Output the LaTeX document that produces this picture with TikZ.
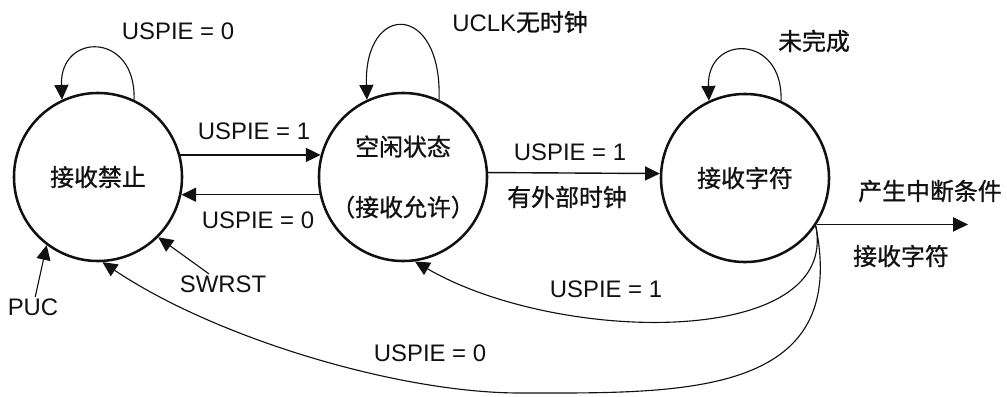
\documentclass[tikz,border=0pt]{standalone}
\usepackage{fontspec}
\setmainfont{Liberation Sans}
\newfontfamily\cjk[FakeBold=1]{Noto Sans CJK SC}
\usetikzlibrary{arrows.meta}
\definecolor{fsmink}{HTML}{111111}
\newcommand{\selfloop}[2]{%
  \draw[loopline] (#1.65) .. controls +(88:#2) and +(92:#2) .. (#1.115);
}
\tikzset{
  fsmstate/.style={circle, draw=fsmink, line width=1.8pt, minimum size=4.2cm, inner sep=0pt,
    text=fsmink, font=\fontsize{17pt}{20pt}\selectfont\cjk, align=center},
  lbl/.style={text=fsmink, font=\fontsize{17pt}{20pt}\selectfont, inner sep=1pt},
  hz/.style={lbl, font=\fontsize{17pt}{20pt}\selectfont\cjk},
  trans/.style={draw=fsmink, line width=1pt, -{Triangle[length=10.5pt,width=10pt]}},
  loopline/.style={trans, line width=0.8pt},
}

\begin{document}
\begin{tikzpicture}[x=0.025cm, y=-0.025cm]
  \useasboundingbox (0,0) rectangle (1007,396);

  \node[fsmstate] (off)  at (98,177)  {接收禁止};
  \node[fsmstate] (idle) at (403,177) {空闲状态\\[23pt]（接收允许）};
  \node[fsmstate] (recv) at (745,178) {接收字符};

  % self loops
  \selfloop{off}{1.7cm}
  \selfloop{idle}{2.45cm}
  \selfloop{recv}{1.67cm}
  \node[lbl] (offloop)  at (178,31) {USPIE = 0};
  \node[lbl] (idleloop) at (520,22) {UCLK{\cjk 无时钟}};
  \node[hz]  (recvloop) at (814,41) {未完成};

  % off <-> idle
  \draw[trans] (off.15) -- (idle.165);
  \node[lbl] (enable)  at (254,131) {USPIE = 1};
  \draw[trans] (idle.192) -- (off.348);
  \node[lbl] (disable) at (258,220) {USPIE = 0};

  % idle -> recv
  \draw[trans] (idle.3) -- (recv.177);
  \node[lbl] (start)    at (570,152) {USPIE = 1};
  \node[hz]  (extclock) at (567,197) {有外部时钟};

  % recv out
  \coordinate (outend) at (968,223);
  \draw[trans] (recv.-33) -- (recv.-33 -| outend);
  \node[hz] (irq)  at (930,191) {产生中断条件};
  \node[hz] (done) at (901,256) {接收字符};

  % recv back
  \draw[loopline] (recv.-34) .. controls +(25,123) and +(143,83) .. (idle.278);
  \node[lbl] (again) at (606,289) {USPIE = 1};
  \coordinate (dip) at (520,393);
  \draw[loopline] (recv.-34) .. controls +(35,173) and +(160,0) .. (dip)
    .. controls +(-120,0) and +(115,77) .. (off.273);
  \node[lbl] (stop) at (430,353) {USPIE = 0};

  % resets
  \node[lbl] (puc)   at (33,307)  {PUC};
  \draw[loopline] (puc) -- (off.233);
  \node[lbl] (swrst) at (223,284) {SWRST};
  \draw[loopline] (swrst) -- (off.315);

\end{tikzpicture}
\end{document}
